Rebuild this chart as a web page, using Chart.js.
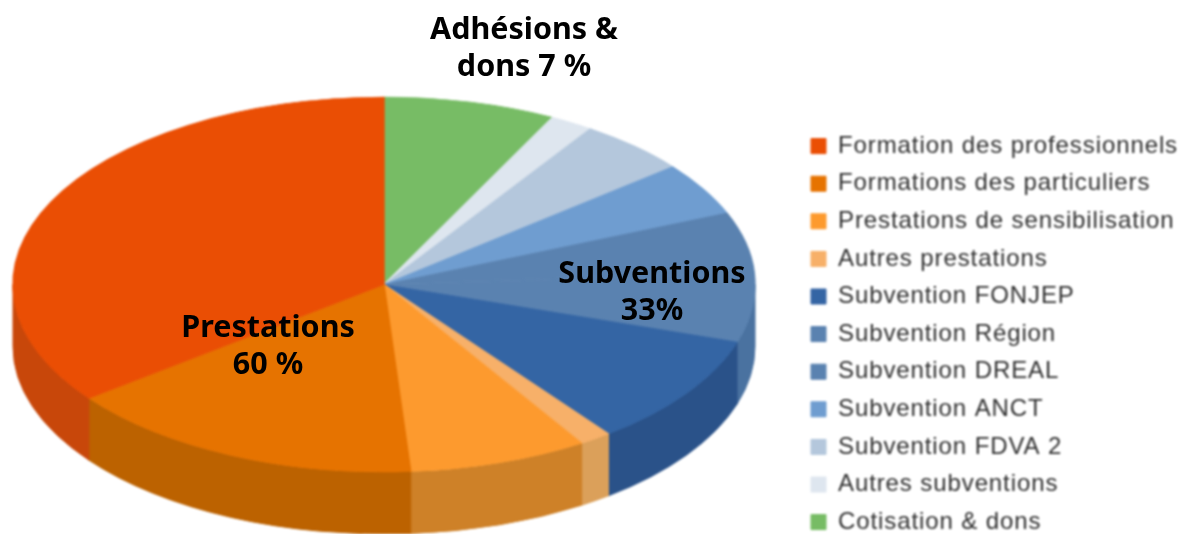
<!DOCTYPE html>
<html lang="fr">
<head>
<meta charset="utf-8">
<title>Répartition des ressources</title>
<script src="https://cdn.jsdelivr.net/npm/chart.js@4"></script>
<style>
  html, body { margin: 0; background: #fff; }
  #wrap { position: relative; width: 1181px; height: 534px; overflow: hidden; }
  #camembert { display: block; filter: blur(0.8px); }
  .etiquette {
    position: absolute; transform: translateX(-50%); text-align: center; white-space: nowrap;
    font: bold 30.5px/37px "Noto Sans", sans-serif; color: #000;
  }
</style>
</head>
<body>
<div id="wrap">
  <canvas id="camembert" width="1181" height="534"></canvas>
</div>
<script>
// meme ordre que la legende
const categories = ["Formation des professionnels", "Formations des particuliers", "Prestations de sensibilisation", "Autres prestations", "Subvention FONJEP", "Subvention Région", "Subvention DREAL", "Subvention ANCT", "Subvention FDVA 2", "Autres subventions", "Cotisation & dons"];
const valeurs = [35.4, 15.8, 7.8, 1.4, 9.7, 6.0, 5.2, 4.6, 4.8, 1.9, 7.5];
const couleurs = ["#ea4e04", "#e67300", "#fd9a2e", "#f7b069", "#3465a4", "#5a82b0", "#5a82b0", "#6f9dd0", "#b4c7dc", "#dee6ef", "#77bc65"];
const couleursFlanc = ["#c8470a", "#bc6200", "#ce8128", "#dba05a", "#2a5289", "#4a72a0", "#4a72a0", "#5a82b0", "#93a3b4", "#b5bcc4", "#619a52"];
const etiquettes = [
  { lignes: ["Adhésions &", "dons 7 %"], x: 524, y: 9 },
  { lignes: ["Prestations", "60 %"], x: 268, y: 307 },
  { lignes: ["Subventions", "33%"], x: 652, y: 253 }
];

// geometrie de l'ellipse dans la page
const CX = 384, CY = 284.5, RX = 371, RY = 187.5, EPAISSEUR = 62;

const pie3d = {
  id: "pie3d",
  afterLayout(chart) {
    // on place la legende a la main, le clip du plugin suit left/right
    const l = chart.legend;
    const h = l.height;
    l.left = 811 - chart.options.plugins.legend.labels.padding;
    l.right = chart.width;
    l.top = 120.5;
    l.bottom = l.top + h;
  },
  beforeDraw(chart) {
    // le texte de la legende est plus large que la police d'origine
    chart.ctx.letterSpacing = "0.9px";
  },
  beforeDatasetsDraw(chart) {
    const ctx = chart.ctx;
    const arcs = chart.getDatasetMeta(0).data;
    const coulFlanc = chart.data.datasets[0].flanc;
    arcs.forEach((arc, i) => {
      const a0 = Math.max(arc.startAngle, 0);
      const a1 = Math.min(arc.endAngle, Math.PI);
      if (a1 <= a0) return;
      ctx.save();
      ctx.beginPath();
      ctx.ellipse(CX, CY, RX, RY, 0, a0, a1);
      ctx.ellipse(CX, CY + EPAISSEUR, RX, RY, 0, a1, a0, true);
      ctx.closePath();
      ctx.fillStyle = coulFlanc[i];
      ctx.strokeStyle = coulFlanc[i];
      ctx.lineWidth = 1;
      ctx.fill();
      ctx.stroke();
      ctx.restore();
    });
    // ecrase le disque de Chart.js en ellipse
    const a = arcs[0];
    ctx.save();
    ctx.translate(CX, CY);
    ctx.scale(RX / a.outerRadius, RY / a.outerRadius);
    ctx.translate(-a.x, -a.y);
  },
  afterDatasetsDraw(chart) {
    chart.ctx.restore();
  }
};

new Chart(document.getElementById("camembert"), {
  type: "pie",
  data: {
    // sens horaire depuis le haut, la legende remet dans l'ordre
    labels: categories.slice().reverse(),
    datasets: [{
      data: valeurs.slice().reverse(),
      backgroundColor: couleurs.slice().reverse(),
      borderColor: couleurs.slice().reverse(),
      flanc: couleursFlanc.slice().reverse(),
      borderWidth: 1
    }]
  },
  options: {
    responsive: false,
    animation: false,
    plugins: {
      tooltip: { enabled: false },
      legend: {
        position: "right",
        align: "start",
        reverse: true,
        labels: {
          boxWidth: 15,
          boxHeight: 15,
          padding: 13.6,
          color: "#2e2e2e",
          font: { family: "'Liberation Sans'", size: 24 }
        }
      }
    }
  },
  plugins: [pie3d]
});

// textes en gras par-dessus
const wrap = document.getElementById("wrap");
etiquettes.forEach(e => {
  const div = document.createElement("div");
  div.className = "etiquette";
  div.style.left = e.x + "px";
  div.style.top = e.y + "px";
  div.innerHTML = e.lignes.map(t => t.replace("&", "&amp;")).join("<br>");
  wrap.appendChild(div);
});
</script>
</body>
</html>
